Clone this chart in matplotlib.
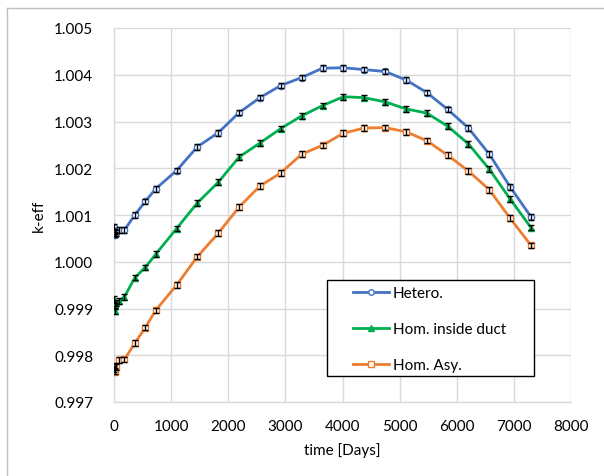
import matplotlib
matplotlib.use("Agg")
import matplotlib.pyplot as plt
from matplotlib.patches import Rectangle
from matplotlib.lines import Line2D

plt.rcParams['font.family'] = ['Lato', 'DejaVu Sans']

time_days = [0, 10, 20, 40, 91.25, 182.5, 365, 547.5, 730, 1095, 1460, 1825, 2190,
             2555, 2920, 3285, 3650, 4015, 4380, 4745, 5110, 5475, 5840, 6205,
             6570, 6935, 7300]

hetero = [1.00075, 1.00065, 1.00058, 1.00062, 1.00068, 1.00068, 1.00100, 1.00129,
          1.00156, 1.00195, 1.00246, 1.00276, 1.00319, 1.00351, 1.00377, 1.00394,
          1.00414, 1.00415, 1.00411, 1.00407, 1.00389, 1.00362, 1.00326, 1.00286,
          1.00230, 1.00160, 1.00096]

hom_duct = [0.99920, 0.99905, 0.99895, 0.99912, 0.99916, 0.99925, 0.99966, 0.99988,
            1.00016, 1.00071, 1.00126, 1.00170, 1.00224, 1.00254, 1.00285, 1.00312,
            1.00334, 1.00353, 1.00351, 1.00342, 1.00327, 1.00318, 1.00290, 1.00252,
            1.00198, 1.00134, 1.00073]

hom_asy = [0.99770, 0.99765, 0.99778, 0.99775, 0.99790, 0.99791, 0.99826, 0.99859,
           0.99896, 0.99950, 1.00011, 1.00061, 1.00117, 1.00162, 1.00190, 1.00230,
           1.00249, 1.00275, 1.00286, 1.00287, 1.00278, 1.00259, 1.00228, 1.00194,
           1.00154, 1.00093, 1.00035]

uncertainty = 0.00006

labels = ["Hetero.", "Hom. inside duct", "Hom. Asy."]
colors = ["#4472C4", "#00B050", "#ED7D31"]
markers = ["o", "^", "s"]
facecolors = ["white", "#00B050", "white"]

yticks = [0.997, 0.998, 0.999, 1.000, 1.001, 1.002, 1.003, 1.004, 1.005]
xticks = [0, 1000, 2000, 3000, 4000, 5000, 6000, 7000, 8000]

FS = 11

fig = plt.figure(figsize=(6.04, 4.77), dpi=100)
ax = fig.add_axes([114/604, 1-403/477, 457/604, 374/477])

series = [hetero, hom_duct, hom_asy]
handles = []
for ys, lab, c, m, fc in zip(series, labels, colors, markers, facecolors):
    ax.errorbar(time_days, ys, yerr=uncertainty, fmt='none', ecolor='black',
                elinewidth=1.0, capsize=2.5, capthick=1.0, zorder=4)
    ax.plot(time_days, ys, color=c, lw=2.0, marker=m, markersize=4.5,
            markerfacecolor=fc, markeredgecolor=c, markeredgewidth=1.0, zorder=3)
    handles.append(Line2D([], [], color=c, lw=2.0, marker=m, markersize=4,
                          markerfacecolor=fc, markeredgecolor=c, markeredgewidth=1.0))

ax.set_xlim(0, 8000)
ax.set_ylim(0.997, 1.005)
ax.set_xticks(xticks)
ax.set_yticks(yticks)
ax.set_xticklabels([str(v) for v in xticks])
ax.set_yticklabels([f"{v:.3f}" for v in yticks])
ax.grid(True, color="#D9D9D9", lw=1.0)
ax.set_axisbelow(True)
for s in ["top", "right"]:
    ax.spines[s].set_visible(False)
for s in ["left", "bottom"]:
    ax.spines[s].set_color("#D9D9D9")
    ax.spines[s].set_linewidth(1.0)
ax.tick_params(axis='both', length=0, labelsize=FS, colors="#000000")
ax.tick_params(axis='y', pad=15)
ax.tick_params(axis='x', pad=12)
ax.set_xlabel("time [Days]", fontsize=FS, labelpad=7)
ax.set_ylabel("k-eff", fontsize=FS, labelpad=6)

# legend box
ax.add_patch(Rectangle((0.4667, 0.0687), 0.453, 0.258, transform=ax.transAxes,
                       facecolor='white', edgecolor='black', lw=1.0, zorder=5))
leg = ax.legend(handles, labels, loc='upper left', bbox_to_anchor=(0.522, 0.31),
                frameon=False, fontsize=FS, handlelength=2.4, handletextpad=0.25,
                labelspacing=1.45, borderpad=0, borderaxespad=0)
leg.set_zorder(6)

# chart area border (left/top)
fig.add_artist(Line2D([7/604, 7/604], [0, 1-9/477], transform=fig.transFigure,
                      color="#BFBFBF", lw=1.0))
fig.add_artist(Line2D([7/604, 1], [1-9/477, 1-9/477], transform=fig.transFigure,
                      color="#BFBFBF", lw=1.0))

fig.savefig("out.png", dpi=100)
